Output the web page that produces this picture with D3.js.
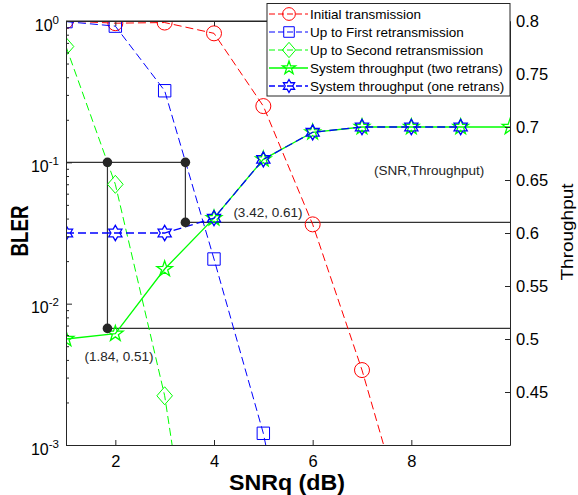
<!DOCTYPE html>
<html><head><meta charset="utf-8">
<script src="https://cdn.jsdelivr.net/npm/d3@7"></script>
<style>
html,body{margin:0;padding:0;background:#fff;}
svg{display:block;font-family:"Liberation Sans",Arial,Helvetica,sans-serif;}
</style></head><body>
<svg id="chart" width="578" height="495"></svg>
<script>
// BLER per transmission stage vs. SNRq (dB)
const snrInitial = [1, 2, 3, 4, 5, 6, 7, 8];
const blerInitial = [1.0, 0.965, 0.975, 0.818, 0.25, 0.0364, 0.00339, 0.00021];
const snrFirst = [1, 2, 3, 4, 5, 6];
const blerFirst = [0.99, 0.92, 0.321, 0.0207, 0.00121, 0.000025];
const snrSecond = [1, 2, 3, 4];
const blerSecond = [0.66, 0.0699, 0.00223, 0.000011];
// System throughput vs. SNRq (dB)
const snrTwo = [1, 2, 3, 4, 5, 6, 7, 8, 9, 10];
const tputTwo = [0.500, 0.505, 0.566, 0.614, 0.6695, 0.695, 0.70, 0.70, 0.70, 0.70];
const snrOne = [1, 2, 3, 4, 5, 6, 7, 8, 9];
const tputOne = [0.600, 0.600, 0.600, 0.614, 0.6695, 0.695, 0.70, 0.70, 0.70];
// Axis ticks
const xTicks = [2, 4, 6, 8];
const blerMajor = [1, 0.1, 0.01, 0.001];
const blerExp = ["0", "-1", "-2", "-3"];
const tputTicks = [0.45, 0.5, 0.55, 0.6, 0.65, 0.7, 0.75, 0.8];
// Operating points where BLER reaches 0.1
const opSnr = [1.84, 3.42];
const opBler = [0.1, 0.1];
const opTput = [0.51, 0.61];
const legendLabels = ["Initial transmission", "Up to First retransmission", "Up to Second retransmission",
  "System throughput (two retrans)", "System throughput (one retrans)"];

const W = 578, H = 495;
const L = 66, R = 510, T = 21, B = 445;
const ink = "#262626";
const svg = d3.select("#chart");

const x = d3.scaleLinear().domain([1, 10]).range([L, R]);
const yL = d3.scaleLog().domain([0.001, 1]).range([B, T]);
const yR = d3.scaleLinear().domain([0.4, 0.8]).range([B, T]);

svg.append("defs").append("clipPath").attr("id", "plotClip")
  .append("rect").attr("x", L).attr("y", T).attr("width", R - L).attr("height", B - T);

// marker shapes
function starPath(n, ro, ri) {
  const pts = [];
  for (let i = 0; i < 2 * n; i++) {
    const a = -Math.PI / 2 + i * Math.PI / n;
    const r = i % 2 === 0 ? ro : ri;
    pts.push([r * Math.cos(a), r * Math.sin(a)]);
  }
  return "M" + pts.map(p => p[0].toFixed(2) + "," + p[1].toFixed(2)).join("L") + "Z";
}
const shapes = {
  circle: s => `M${-7.5 * s},0A${7.5 * s},${7.5 * s} 0 1,0 ${7.5 * s},0A${7.5 * s},${7.5 * s} 0 1,0 ${-7.5 * s},0Z`,
  square: s => { const h = 6.2 * s; return `M${-h},${-h}H${h}V${h}H${-h}Z`; },
  diamond: s => `M0,${-9 * s}L${7.8 * s},0L0,${9 * s}L${-7.8 * s},0Z`,
  pentagram: s => starPath(5, 8.2 * s, 3.2 * s),
  hexagram: s => starPath(6, 7.6 * s, 4.4 * s)
};

const series = [
  { xs: snrInitial, ys: blerInitial, axis: yL, color: "#ff0000", dash: "8,4", shape: "circle", width: 1 },
  { xs: snrFirst, ys: blerFirst, axis: yL, color: "#0000ff", dash: "8,4", shape: "square", width: 1 },
  { xs: snrSecond, ys: blerSecond, axis: yL, color: "#00ff00", dash: "8,4", shape: "diamond", width: 1 },
  { xs: snrTwo, ys: tputTwo, axis: yR, color: "#00ff00", dash: null, shape: "pentagram", width: 1.3 },
  { xs: snrOne, ys: tputOne, axis: yR, color: "#0000ff", dash: "8,4", shape: "hexagram", width: 1.3 }
];

const plot = svg.append("g").attr("clip-path", "url(#plotClip)");

// operating point guides
const guide = plot.append("g").attr("stroke", "#333").attr("stroke-width", 1.2).attr("fill", "none");
guide.append("line").attr("x1", x(1)).attr("x2", x(opSnr[1]))
  .attr("y1", yL(opBler[0])).attr("y2", yL(opBler[0]));
opSnr.forEach((s, i) => {
  guide.append("line").attr("x1", x(s)).attr("x2", x(s))
    .attr("y1", yL(opBler[i])).attr("y2", yR(opTput[i]));
  guide.append("line").attr("x1", x(s)).attr("x2", x(10))
    .attr("y1", yR(opTput[i])).attr("y2", yR(opTput[i]));
});

series.forEach(sr => {
  const pts = sr.xs.map((v, i) => [x(v), sr.axis(sr.ys[i])]);
  plot.append("path").attr("d", d3.line()(pts))
    .attr("fill", "none").attr("stroke", sr.color).attr("stroke-width", sr.width)
    .attr("stroke-dasharray", sr.dash);
  plot.append("g").selectAll("path").data(pts).join("path")
    .attr("transform", p => `translate(${p[0]},${p[1]})`)
    .attr("d", shapes[sr.shape](1))
    .attr("fill", "none").attr("stroke", sr.color).attr("stroke-width", sr.width);
});

// operating point dots
opSnr.forEach((s, i) => {
  plot.append("circle").attr("cx", x(s)).attr("cy", yL(opBler[i])).attr("r", 4.8).attr("fill", ink);
  plot.append("circle").attr("cx", x(s)).attr("cy", yR(opTput[i])).attr("r", 4.8).attr("fill", ink);
});

// annotation texts
const note = svg.append("g").attr("fill", ink).attr("font-size", "13.5px");
note.append("text").attr("x", x(opSnr[0]) - 23).attr("y", yR(opTput[0]) + 33)
  .text(`(${opSnr[0]}, ${opTput[0]})`);
note.append("text").attr("x", x(opSnr[1]) + 48).attr("y", yR(opTput[1]) - 5)
  .text(`(${opSnr[1]}, ${opTput[1]})`);
note.append("text").attr("x", 374).attr("y", 175).text("(SNR,Throughput)");

// axes
function styleAxis(g) {
  g.select(".domain").attr("stroke", ink).attr("stroke-width", 1);
  g.selectAll(".tick line").attr("stroke", ink);
  g.selectAll(".tick text").attr("fill", "#000");
}
const axB = svg.append("g").attr("transform", `translate(0,${B})`)
  .call(d3.axisBottom(x).tickValues(xTicks).tickFormat(d3.format("d")).tickSize(-5).tickSizeOuter(0).tickPadding(10))
  .attr("font-size", "16.5px").attr("font-family", null);
styleAxis(axB);
const axT = svg.append("g").attr("transform", `translate(0,${T})`)
  .call(d3.axisTop(x).tickValues(xTicks).tickFormat("").tickSize(-5).tickSizeOuter(0));
styleAxis(axT);

const minorTicks = [];
[0.001, 0.01, 0.1].forEach(d => { for (let k = 2; k <= 9; k++) minorTicks.push(d * k); });
const axLmin = svg.append("g").attr("transform", `translate(${L},0)`)
  .call(d3.axisLeft(yL).tickValues(minorTicks).tickFormat("").tickSize(-3).tickSizeOuter(0));
styleAxis(axLmin);
const axL = svg.append("g").attr("transform", `translate(${L},0)`)
  .call(d3.axisLeft(yL).tickValues(blerMajor).tickFormat("").tickSize(-6).tickSizeOuter(0));
styleAxis(axL);
axL.selectAll(".tick").append("text")
  .attr("x", -7).attr("y", 9).attr("text-anchor", "end").attr("fill", "#000")
  .attr("font-family", "Liberation Sans, Arial, sans-serif")
  .each(function (d, i) {
    const t = d3.select(this);
    t.append("tspan").attr("font-size", "16px").text("10");
    t.append("tspan").attr("font-size", "11.5px").attr("dy", -7).text(blerExp[i]);
  });

const axR = svg.append("g").attr("transform", `translate(${R},0)`)
  .call(d3.axisRight(yR).tickValues(tputTicks).tickFormat(d => String(d)).tickSize(-5).tickSizeOuter(0).tickPadding(6))
  .attr("font-size", "16.5px").attr("font-family", null);
styleAxis(axR);

// top frame line
svg.append("line").attr("x1", L).attr("x2", R).attr("y1", T).attr("y2", T).attr("stroke", ink);

// axis titles
svg.append("text").attr("transform", `translate(${W / 2 - 2},490)`).attr("text-anchor", "middle")
  .attr("font-weight", "bold").attr("font-size", "22px").attr("fill", "#000")
  .attr("textLength", 116).attr("lengthAdjust", "spacingAndGlyphs").text("SNRq (dB)");
svg.append("text").attr("transform", "translate(28,231) rotate(-90)").attr("text-anchor", "middle")
  .attr("font-weight", "bold").attr("font-size", "24px").attr("fill", "#000")
  .attr("textLength", 51).attr("lengthAdjust", "spacingAndGlyphs").text("BLER");
svg.append("text").attr("transform", "translate(573,232) rotate(-90)").attr("text-anchor", "middle")
  .attr("font-size", "17px").attr("fill", "#000")
  .attr("textLength", 97).attr("lengthAdjust", "spacingAndGlyphs").text("Throughput");

// legend
const lg = svg.append("g");
lg.append("rect").attr("x", 267).attr("y", 3.5).attr("width", R - 267).attr("height", 92.5)
  .attr("fill", "#fff").attr("stroke", ink).attr("stroke-width", 1);
series.forEach((sr, i) => {
  const cy = 14 + i * 18;
  lg.append("line").attr("x1", 269).attr("x2", 308).attr("y1", cy).attr("y2", cy)
    .attr("stroke", sr.color).attr("stroke-width", sr.width).attr("stroke-dasharray", sr.dash ? "6,3" : null);
  lg.append("path").attr("transform", `translate(289,${cy})`).attr("d", shapes[sr.shape](0.85))
    .attr("fill", "none").attr("stroke", sr.color).attr("stroke-width", sr.width);
  lg.append("text").attr("x", 310).attr("y", cy + 4.8).attr("font-size", "13.5px").attr("fill", "#000")
    .text(legendLabels[i]);
});
</script>
</body></html>
